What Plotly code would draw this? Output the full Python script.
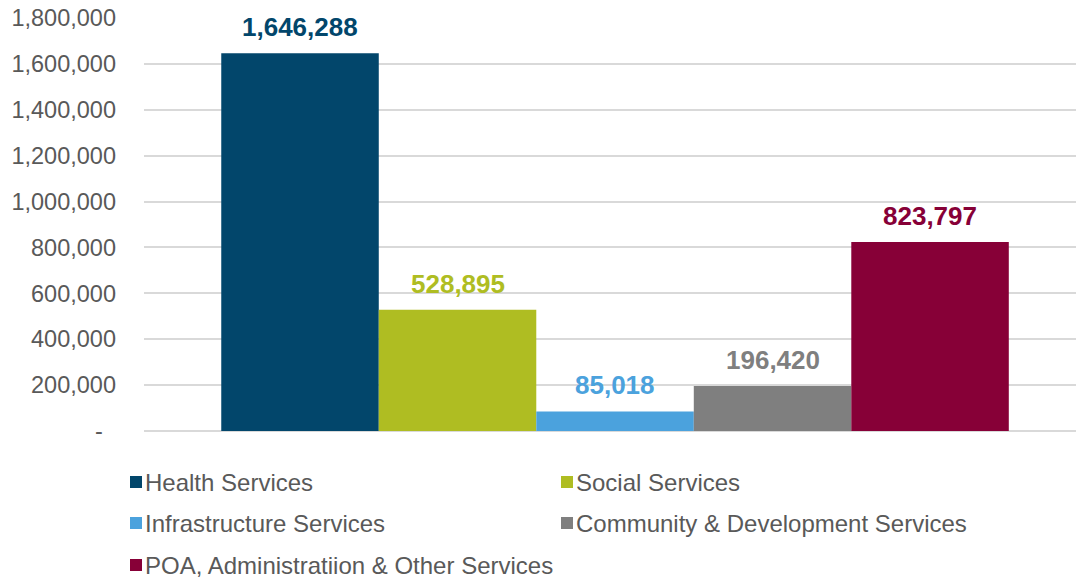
import plotly.graph_objects as go

# Service categories and their totals
services = [
    "Health Services",
    "Social Services",
    "Infrastructure Services",
    "Community & Development Services",
    "POA, Administratiion & Other Services",
]
totals = [1646288, 528895, 85018, 196420, 823797]
colors = ["#02466B", "#AFBD22", "#4BA2DD", "#7F7F7F", "#870037"]

# y-axis ticks
tick_values = [0, 200000, 400000, 600000, 800000, 1000000, 1200000, 1400000, 1600000, 1800000]
tick_labels = ["-\u00a0\u00a0"] + [f"{v:,}" for v in tick_values[1:]]

W, H = 1076, 583
M_L, M_R, M_T, M_B = 144, 0, 18, 152
PLOT_W = W - M_L - M_R
PLOT_H = H - M_T - M_B


def px_x(px):
    return (px - M_L) / PLOT_W


def px_y(py):
    return (H - M_B - py) / PLOT_H


fig = go.Figure()
for name, val, col in zip(services, totals, colors):
    fig.add_trace(go.Bar(
        x=[0], y=[val], name=name,
        marker=dict(color=col, line=dict(width=0)),
        showlegend=False,
    ))

# value labels above each bar
offsets = [-2, -1, 0, 1, 2]
group_frac = 1 - 0.155
bar_w = group_frac / len(services)
annotations = []
for off, val, col in zip(offsets, totals, colors):
    annotations.append(dict(
        x=off * bar_w, y=val, xref="x", yref="y",
        text=f"<b>{val:,}</b>", showarrow=False,
        xanchor="center", yanchor="bottom", yshift=9,
        font=dict(family="Liberation Sans, Arial", size=26, color=col),
    ))

# legend drawn as two columns of swatches and labels
legend_cols = [130, 561]
legend_rows = [482, 523, 565]
shapes = []
for i, (name, col) in enumerate(zip(services, colors)):
    cx = legend_cols[i % 2]
    cy = legend_rows[i // 2]
    shapes.append(dict(
        type="rect", xref="paper", yref="paper",
        x0=px_x(cx), x1=px_x(cx + 12),
        y0=px_y(cy + 6), y1=px_y(cy - 6),
        fillcolor=col, line=dict(width=0),
    ))
    annotations.append(dict(
        x=px_x(cx + 13), y=px_y(cy), xref="paper", yref="paper",
        text=name, showarrow=False, xanchor="left", yanchor="middle",
        font=dict(family="Liberation Sans, Arial", size=24, color="#595959"),
    ))

fig.update_layout(
    width=W, height=H,
    margin=dict(l=M_L, r=M_R, t=M_T, b=M_B, pad=0),
    paper_bgcolor="white", plot_bgcolor="white",
    barmode="group", bargap=0.155, bargroupgap=0,
    font=dict(family="Liberation Sans, Arial", color="#595959"),
    annotations=annotations, shapes=shapes,
    xaxis=dict(range=[-0.5054, 0.4946], showticklabels=False, showgrid=False,
               zeroline=False, showline=False, ticks=""),
    yaxis=dict(range=[0, 1800000], tickvals=tick_values, ticktext=tick_labels,
               showgrid=True, gridcolor="#D9D9D9", gridwidth=1.5,
               zeroline=True, zerolinecolor="#D9D9D9", zerolinewidth=1.5,
               showline=False, ticks="", ticklabelstandoff=27,
               tickfont=dict(family="Liberation Sans, Arial", size=23.5, color="#595959")),
)

fig.write_html("out.html")
